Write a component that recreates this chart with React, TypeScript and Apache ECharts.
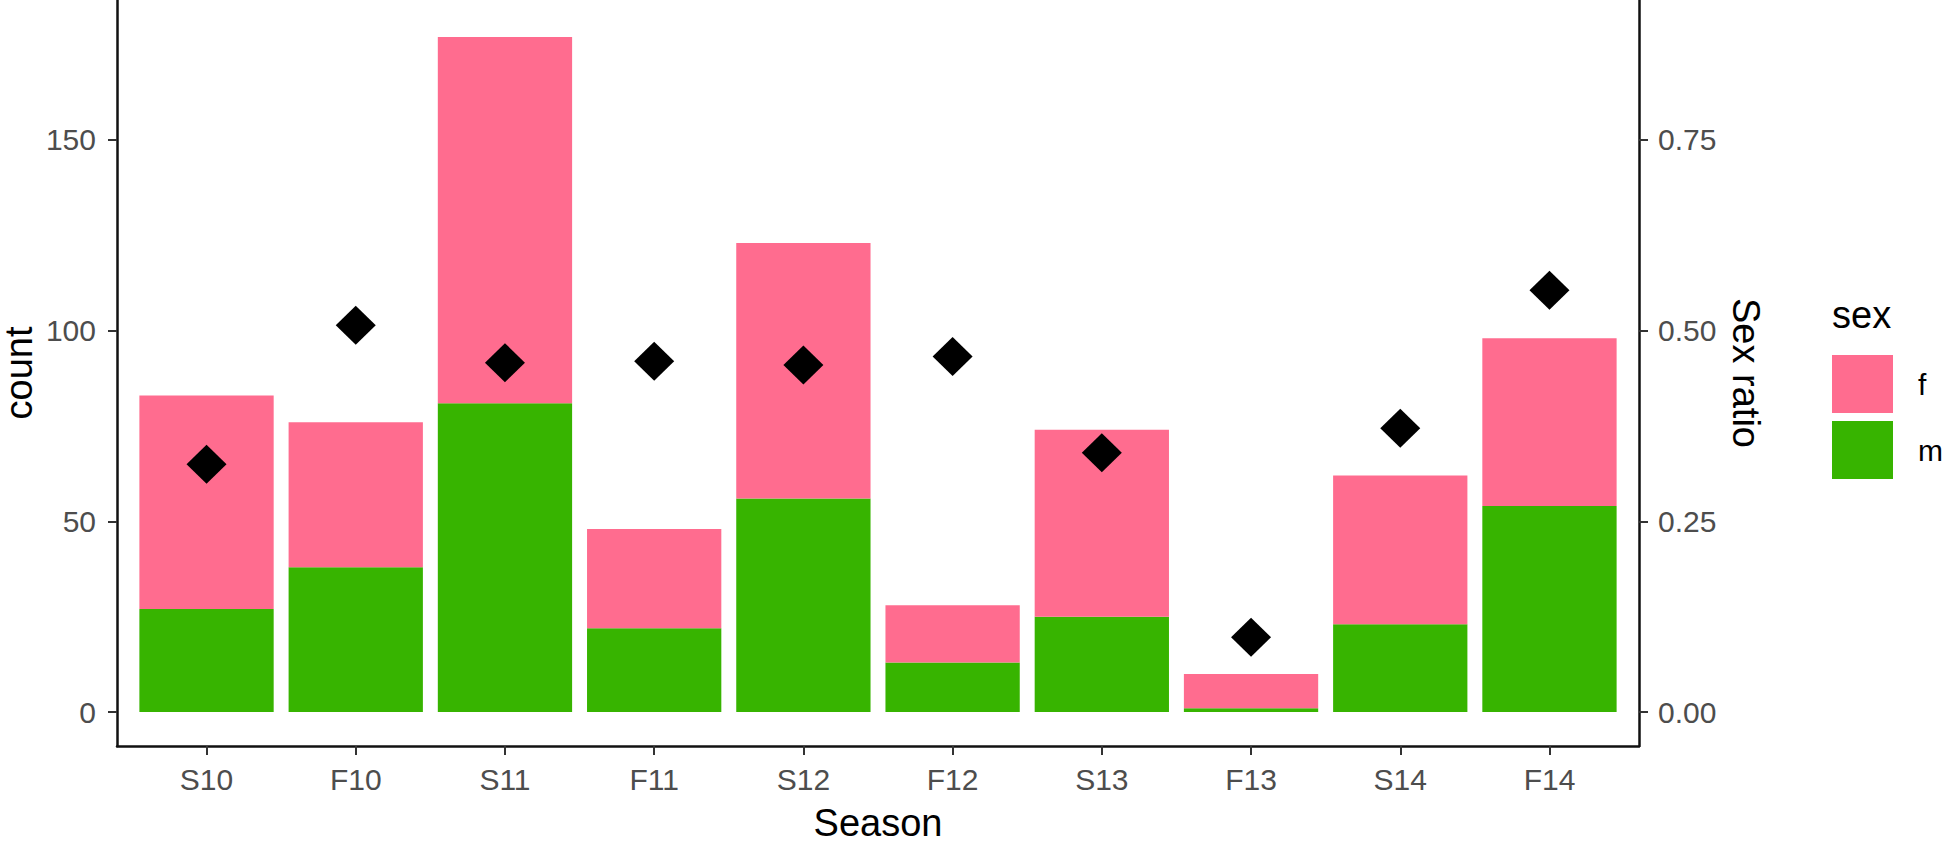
import React, { useEffect, useRef } from "react";
import * as echarts from "echarts";

const seasons = ["S10", "F10", "S11", "F11", "S12", "F12", "S13", "F13", "S14", "F14"];
const maleCounts = [27, 38, 81, 22, 56, 13, 25, 1, 23, 54];
const femaleCounts = [56, 38, 96, 26, 67, 15, 49, 9, 39, 44];
const sexRatio = [0.325, 0.507, 0.458, 0.46, 0.455, 0.466, 0.34, 0.098, 0.372, 0.553];
const countTicks = [0, 50, 100, 150];
const ratioTicks = [0, 0.25, 0.5, 0.75];
const positions = [1, 2, 3, 4, 5, 6, 7, 8, 9, 10];

const FONT = "'Liberation Sans', Arial, Helvetica, sans-serif";
const PINK = "#FF6C8F";
const GREEN = "#37B400";
const AXIS_TEXT = "#4D4D4D";

const COUNT_MIN = -8.9;
const COUNT_MAX = 186.7;

export default function App() {
  const ref = useRef<HTMLDivElement>(null);

  useEffect(() => {
    if (!ref.current) return;
    const chart = echarts.init(ref.current, undefined, { renderer: "svg" });

    const axisLineStyle = { color: "#111", width: 2.5 };
    const tickStyle = { color: "#333", width: 2 };

    // plot panel: x 117..1639, y 0..746 ; discrete expansion 0.6 band each side
    const panelLeft = 117;
    const panelRight = 1639;
    const band = (panelRight - panelLeft) / 10.2;
    const barGridLeft = panelLeft + 0.1 * band;
    const barGridRight = 1950 - (panelRight - 0.1 * band);

    const option: any = {
      animation: false,
      backgroundColor: "#fff",
      textStyle: { fontFamily: FONT },
      grid: [
        {
          left: panelLeft,
          right: 1950 - panelRight,
          top: 0,
          bottom: 101,
          containLabel: false,
          outerBoundsMode: "none",
        },
        {
          left: barGridLeft,
          right: barGridRight,
          top: 0,
          bottom: 101,
          containLabel: false,
          outerBoundsMode: "none",
        },
      ],
      xAxis: [
        {
          type: "value",
          gridIndex: 0,
          min: 0.4,
          max: 10.6,
          name: "Season",
          nameLocation: "middle",
          nameGap: 58,
          nameTextStyle: { fontSize: 38, color: "#000", fontFamily: FONT },
          splitLine: { show: false },
          axisLine: { show: true, onZero: false, lineStyle: axisLineStyle },
          axisTick: { show: true, length: 9, lineStyle: tickStyle, customValues: positions },
          axisLabel: {
            customValues: positions,
            fontSize: 30,
            color: AXIS_TEXT,
            margin: 18,
            fontFamily: FONT,
            formatter: (v: number) => seasons[Math.round(v) - 1] ?? "",
          },
        },
        {
          type: "category",
          gridIndex: 1,
          data: seasons,
          boundaryGap: true,
          show: false,
        },
      ],
      yAxis: [
        {
          type: "value",
          gridIndex: 0,
          position: "left",
          min: COUNT_MIN,
          max: COUNT_MAX,
          name: "count",
          nameLocation: "middle",
          nameRotate: 90,
          nameGap: 79,
          nameMoveOverlap: false,
          nameTextStyle: { fontSize: 38, color: "#000", fontFamily: FONT },
          splitLine: { show: false },
          axisLine: { show: true, onZero: false, lineStyle: axisLineStyle },
          axisTick: { show: true, length: 9, lineStyle: tickStyle, customValues: countTicks },
          axisLabel: {
            customValues: countTicks,
            fontSize: 30,
            color: AXIS_TEXT,
            margin: 21,
            fontFamily: FONT,
            formatter: (v: number) => String(v),
          },
        },
        {
          type: "value",
          gridIndex: 0,
          position: "right",
          min: COUNT_MIN / 200,
          max: COUNT_MAX / 200,
          name: "Sex ratio",
          nameLocation: "middle",
          nameRotate: -90,
          nameGap: 76,
          nameTextStyle: { fontSize: 38, color: "#000", fontFamily: FONT },
          splitLine: { show: false },
          axisLine: { show: true, onZero: false, lineStyle: axisLineStyle },
          axisTick: { show: true, length: 9, lineStyle: tickStyle, customValues: ratioTicks },
          axisLabel: {
            customValues: ratioTicks,
            fontSize: 30,
            color: AXIS_TEXT,
            margin: 19,
            fontFamily: FONT,
            formatter: (v: number) => v.toFixed(2),
          },
        },
        {
          type: "value",
          gridIndex: 1,
          min: COUNT_MIN,
          max: COUNT_MAX,
          show: false,
          splitLine: { show: false },
        },
      ],
      legend: {
        orient: "vertical",
        left: 1832,
        top: 355,
        padding: 0,
        itemWidth: 61,
        itemHeight: 58,
        itemGap: 8,
        icon: "rect",
        data: ["f", "m"],
        textStyle: { fontSize: 30, color: "#000", fontFamily: FONT, padding: [0, 0, 0, 20] },
        selectedMode: false,
      },
      graphic: [
        {
          type: "text",
          left: 1832,
          top: 296,
          style: { text: "sex", fontSize: 38, fill: "#000", fontFamily: FONT },
        },
      ],
      series: [
        {
          name: "m",
          type: "bar",
          xAxisIndex: 1,
          yAxisIndex: 2,
          stack: "sex",
          barCategoryGap: "10%",
          itemStyle: { color: GREEN },
          data: maleCounts,
        },
        {
          name: "f",
          type: "bar",
          xAxisIndex: 1,
          yAxisIndex: 2,
          stack: "sex",
          barCategoryGap: "10%",
          itemStyle: { color: PINK },
          data: femaleCounts,
        },
        {
          name: "ratio",
          type: "scatter",
          xAxisIndex: 0,
          yAxisIndex: 1,
          symbol: "diamond",
          symbolSize: [40, 39],
          itemStyle: { color: "#000", opacity: 1 },
          data: sexRatio.map((v, i) => [positions[i], v]),
          z: 5,
        },
      ],
    };

    chart.setOption(option);
    return () => chart.dispose();
  }, []);

  return (
    <div
      ref={ref}
      style={{ position: "fixed", left: 0, top: 0, width: 1950, height: 847, background: "#fff" }}
    />
  );
}
